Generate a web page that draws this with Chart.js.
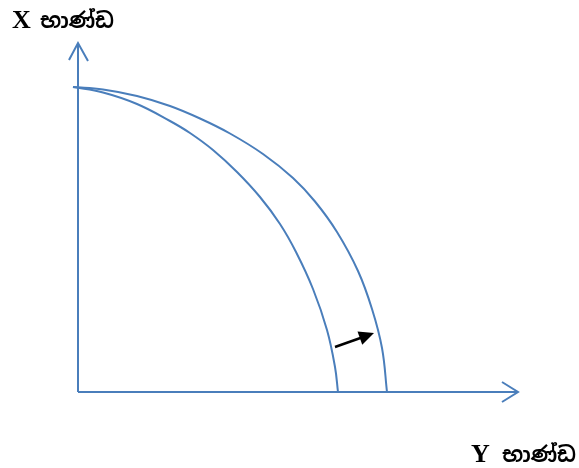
<!DOCTYPE html>
<html>
<head>
<meta charset="utf-8">
<script src="https://cdn.jsdelivr.net/npm/chart.js@4/dist/chart.umd.min.js"></script>
<style>
  html, body { margin: 0; padding: 0; background: #fff; }
  #ppf { display: block; }
</style>
</head>
<body>
<canvas id="ppf" width="579" height="468"></canvas>
<script>
// quantity of Y good (x) / quantity of X good (y)
const innerCurve = [[-5,305],[25,299.5],[59,288],[92,271],[112,259],[135,242],[159,220],[182,195],[202,168],[218,140],[235,103],[249,62],[257,25],[260,0]];
const outerCurve = [[-5,305],[25,302.5],[59,296],[92,286],[122,273.5],[152,258.5],[185,238],[215,214],[237,190.5],[259,160],[280,121],[294,83],[304,44],[309,0]];

const xAxisLine = [[0,0],[440,0]];
const yAxisLine = [[0,0],[0,349]];
const xArrowHead = [[424,10],[440,0],[424,-10]];
const yArrowHead = [[-9,332],[0,349],[10,331]];
const shiftArrow = [[257,45],[296,59]];

const xLabel = "X භාණ්ඩ";
const yLabel = "Y භාණ්ඩ";

const blue = 'rgb(74,126,187)';

function toPoints(arr) {
    return arr.map(p => ({x: p[0], y: p[1]}));
}

function lineSet(arr, color, width, tension) {
    return {
        data: toPoints(arr),
        borderColor: color,
        borderWidth: width,
        pointRadius: 0,
        tension: tension,
        fill: false
    };
}

const labelsPlugin = {
    id: 'labels',
    afterDatasetsDraw(chart) {
        const ctx = chart.ctx;
        const xs = chart.scales.x, ys = chart.scales.y;

        // arrow head for the shift arrow
        const a = shiftArrow[0], b = shiftArrow[1];
        const x0 = xs.getPixelForValue(a[0]), y0 = ys.getPixelForValue(a[1]);
        const x1 = xs.getPixelForValue(b[0]), y1 = ys.getPixelForValue(b[1]);
        const ang = Math.atan2(y1 - y0, x1 - x0);
        const len = 15, half = 7;
        ctx.save();
        ctx.fillStyle = '#000';
        ctx.beginPath();
        ctx.moveTo(x1, y1);
        ctx.lineTo(x1 - len * Math.cos(ang) + half * Math.sin(ang), y1 - len * Math.sin(ang) - half * Math.cos(ang));
        ctx.lineTo(x1 - len * Math.cos(ang) - half * Math.sin(ang), y1 - len * Math.sin(ang) + half * Math.cos(ang));
        ctx.closePath();
        ctx.fill();

        // axis titles
        ctx.fillStyle = '#000';
        ctx.textBaseline = 'alphabetic';
        ctx.font = 'bold 26px "Liberation Serif", "Times New Roman", serif';
        ctx.fillText('X', 12, 28);
        ctx.fillText('Y', 471, 462);
        ctx.font = 'bold 21px "Noto Sans Sinhala", "Iskoola Pota", "Liberation Serif", serif';
        ctx.fillText(xLabel.slice(2), 40, 28);
        ctx.fillText(yLabel.slice(2), 502, 462);
        ctx.restore();
    }
};

const ctx = document.getElementById('ppf').getContext('2d');
const ppfChart = new Chart(ctx, {
    type: 'line',
    data: {
        datasets: [
            lineSet(xAxisLine, blue, 2, 0),
            lineSet(yAxisLine, blue, 2, 0),
            lineSet(xArrowHead, blue, 2, 0),
            lineSet(yArrowHead, blue, 2, 0),
            lineSet(innerCurve, blue, 2, 0.4),
            lineSet(outerCurve, blue, 2, 0.4),
            lineSet([shiftArrow[0], [shiftArrow[1][0] - 8, shiftArrow[1][1] - 3]], '#000', 2.5, 0)
        ]
    },
    options: {
        responsive: false,
        animation: false,
        layout: { padding: 0 },
        scales: {
            x: { type: 'linear', min: -78, max: 501, display: false },
            y: { type: 'linear', min: -76, max: 392, display: false }
        },
        plugins: {
            legend: { display: false },
            tooltip: { enabled: false }
        }
    },
    plugins: [labelsPlugin]
});
</script>
</body>
</html>
